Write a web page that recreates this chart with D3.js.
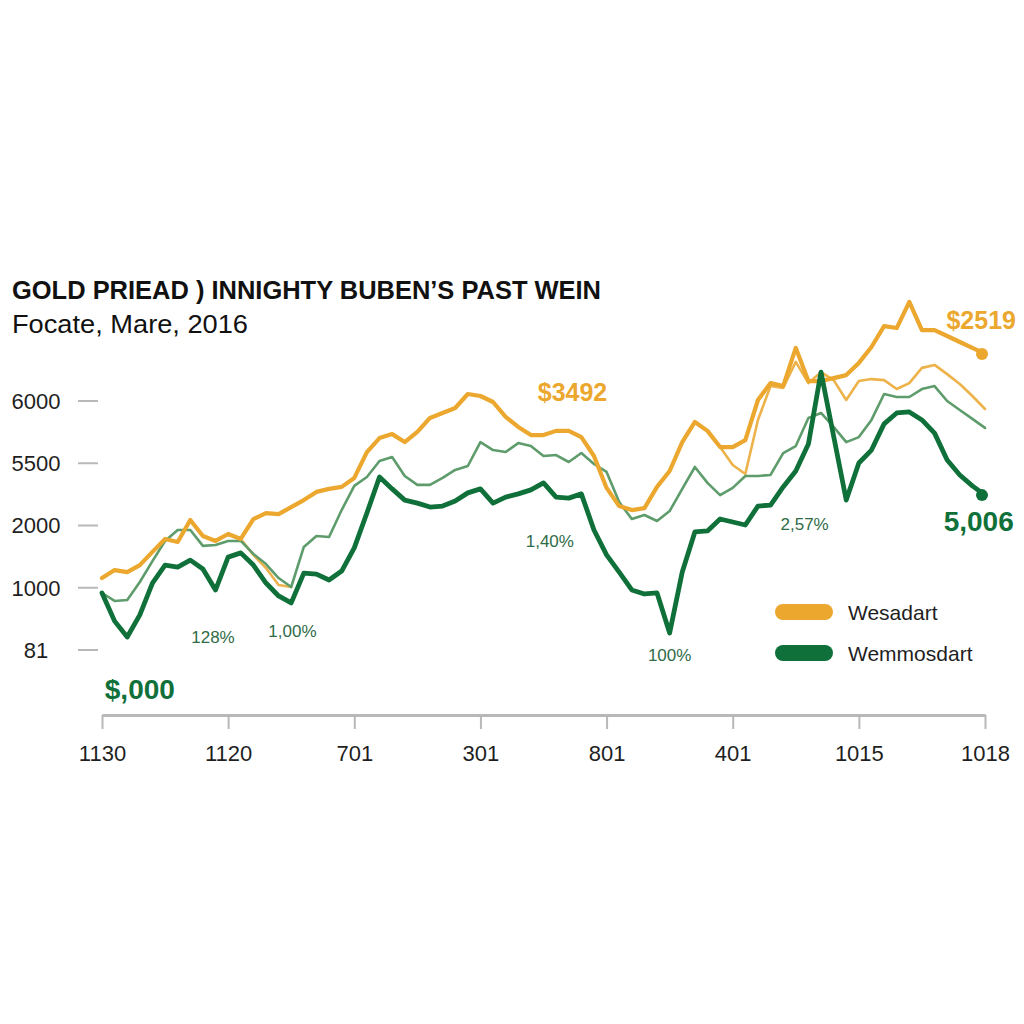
<!DOCTYPE html>
<html>
<head>
<meta charset="utf-8">
<script src="https://cdn.jsdelivr.net/npm/d3@7/dist/d3.min.js"></script>
<style>
  html, body { margin: 0; padding: 0; background: #ffffff; }
  svg { display: block; }
  text { font-family: "Liberation Sans", Arial, sans-serif; }
</style>
</head>
<body>
<svg id="chart" width="1024" height="1024"></svg>
<script>
// ---------- DATA ----------
const titleText = "GOLD PRIEAD ) INNIGHTY BUBEN\u2019S PAST WEIN";
const subtitleText = "Focate, Mare, 2016";

const xTickIndex = [0, 10, 20, 30, 40, 50, 60, 70];
const xTickLabels = ["1130", "1120", "701", "301", "801", "401", "1015", "1018"];

const yTickValues = [100, 75, 50, 25, 0];
const yTickLabels = ["6000", "5500", "2000", "1000", "81"];

// thick orange (Wesadart)
const goldMain = [28.9, 32.1, 31.3, 34.1, 39.4, 44.6, 43.4, 52.2, 45.8, 43.8,
  46.6, 44.6, 52.6, 55.0, 54.6, 57.4, 60.2, 63.5, 64.7, 65.5,
  69.1, 79.5, 85.1, 86.7, 83.5, 87.6, 93.2, 95.2, 97.2, 102.8,
  102.0, 99.6, 93.6, 89.6, 86.3, 86.3, 88.0, 88.0, 85.5, 77.9,
  65.1, 57.8, 56.2, 57.0, 65.5, 71.9, 83.5, 91.6, 88.0, 81.5,
  81.5, 84.3, 100.4, 107.2, 106.0, 121.3, 108.0, 108.0, 109.2, 110.4,
  115.3, 121.7, 130.1, 129.3, 139.8, 128.5, 128.5, 126.1, 123.7, 121.3,
  118.9];

// thin orange
const goldThin = [null, null, null, null, null, null, null, null, null, null,
  null, 44.6, 38.2, 32.9, 26.1, 25.3, null, null, null, null,
  null, null, null, null, null, null, null, null, null, null,
  null, null, null, null, null, null, null, null, null, null,
  null, null, null, null, null, null, null, null, 88.0, 81.5,
  74.3, 70.7, 92.4, 106.0, 105.2, 115.7, 107.2, 111.6, 108.4, 100.4,
  108.0, 108.8, 108.4, 104.8, 107.2, 113.3, 114.5, 110.8, 106.8, 102.0,
  96.8];

// thin light green
const greenThin = [22.9, 19.7, 20.1, 27.3, 35.7, 43.8, 48.2, 48.2, 41.8, 42.2,
  43.8, 43.8, 38.6, 34.5, 28.9, 25.3, 41.4, 45.8, 45.4, 56.2,
  65.9, 69.5, 75.9, 77.5, 69.9, 66.3, 66.3, 69.1, 72.3, 73.9,
  83.5, 80.3, 79.5, 83.1, 81.9, 77.9, 78.3, 75.5, 79.1, 74.7,
  71.5, 59.4, 52.6, 54.2, 51.8, 55.8, 64.7, 73.5, 67.1, 62.2,
  65.1, 69.9, 69.9, 70.3, 79.1, 81.9, 93.2, 95.2, 89.6, 83.5,
  85.5, 92.4, 102.8, 101.6, 101.6, 104.8, 106.0, 100.0, 96.4, 92.8,
  89.2];

// thick dark green (Wemmosdart)
const greenMain = [22.9, 11.6, 5.2, 14.1, 26.9, 34.1, 33.3, 36.1, 32.5, 24.1,
  37.3, 39.0, 34.1, 26.9, 21.7, 18.9, 30.9, 30.5, 28.1, 31.7,
  41.0, 55.0, 69.5, 64.7, 60.2, 59.0, 57.4, 57.8, 59.8, 63.1,
  64.7, 59.0, 61.4, 62.7, 64.3, 67.1, 61.4, 61.0, 62.7, 48.2,
  38.2, 31.3, 24.1, 22.5, 22.9, 6.8, 31.3, 47.4, 47.8, 52.6,
  51.4, 50.2, 57.8, 58.2, 65.5, 71.9, 82.7, 111.6, 85.9, 60.2,
  75.1, 80.3, 90.8, 95.2, 95.6, 92.4, 87.1, 76.3, 70.3, 65.9,
  62.2];

const seriesNames = ["Wesadart", "Wemmosdart"];

const annotations = [
  { text: "$3492", i: 37.3, v: 103.5, kind: "goldBig" },
  { text: "$2519", i: 69.7, v: 132.5, kind: "goldBig" },
  { text: "5,006", i: 69.5, v: 52, kind: "greenBig" },
  { text: "$,000", i: 3.0, v: -15.5, kind: "greenBig" },
  { text: "128%", i: 8.8, v: 5.2, kind: "pct" },
  { text: "1,00%", i: 15.1, v: 7.6, kind: "pct" },
  { text: "1,40%", i: 35.5, v: 43.7, kind: "pct" },
  { text: "100%", i: 45.0, v: -2, kind: "pct" },
  { text: "2,57%", i: 55.7, v: 50.6, kind: "pct" }
];

// ---------- STYLE ----------
const C = {
  gold: "#EBA72E",
  goldThin: "#EDB24A",
  green: "#10703A",
  greenThin: "#5E9C6C",
  pct: "#2F6B47",
  text: "#1f1f1f",
  axis: "#B8B8B8"
};

const svg = d3.select("#chart");

const x = d3.scaleLinear().domain([0, 70]).range([102, 985]);
const y = d3.scaleLinear().domain([0, 100]).range([650, 401]);

// title
svg.append("text").attr("x", 12).attr("y", 299)
  .attr("font-size", 26).attr("font-weight", "bold").attr("fill", "#111")
  .attr("textLength", 589).attr("lengthAdjust", "spacingAndGlyphs")
  .text(titleText);
svg.append("text").attr("x", 12).attr("y", 333)
  .attr("font-size", 26).attr("fill", "#111")
  .attr("textLength", 236).attr("lengthAdjust", "spacingAndGlyphs")
  .text(subtitleText);

// y ticks
const yg = svg.append("g");
yTickValues.forEach((v, k) => {
  yg.append("line").attr("x1", 78).attr("x2", 98)
    .attr("y1", y(v)).attr("y2", y(v))
    .attr("stroke", C.axis).attr("stroke-width", 2);
  yg.append("text").attr("x", 36).attr("y", y(v)).attr("dy", "0.36em")
    .attr("text-anchor", "middle").attr("font-size", 22).attr("fill", C.text)
    .text(yTickLabels[k]);
});

// x axis
const xAxis = d3.axisBottom(x)
  .tickValues(xTickIndex)
  .tickFormat((d, k) => xTickLabels[k])
  .tickSize(14).tickSizeOuter(0).tickPadding(16);
const xg = svg.append("g").attr("transform", "translate(0,715)").call(xAxis);
xg.select(".domain").attr("stroke", C.axis).attr("stroke-width", 3);
xg.selectAll(".tick line").attr("stroke", C.axis).attr("stroke-width", 2);
xg.selectAll(".tick text").attr("font-size", 22).attr("fill", C.text)
  .attr("font-family", "'Liberation Sans', Arial, sans-serif");

// lines
const line = d3.line()
  .defined(d => d != null)
  .x((d, i) => x(i))
  .y(d => y(d))
  .curve(d3.curveLinear);

function drawLine(data, color, width) {
  svg.append("path").datum(data)
    .attr("fill", "none").attr("stroke", color).attr("stroke-width", width)
    .attr("stroke-linejoin", "round").attr("stroke-linecap", "round")
    .attr("d", line);
}
drawLine(goldThin, C.goldThin, 2.6);
drawLine(greenThin, C.greenThin, 2.6);
drawLine(goldMain, C.gold, 4.2);
drawLine(greenMain, C.green, 4.8);

// end markers
svg.append("circle").attr("cx", x(70) - 3).attr("cy", y(goldMain[70]))
  .attr("r", 6).attr("fill", C.gold);
svg.append("circle").attr("cx", x(70) - 3).attr("cy", y(greenMain[70]))
  .attr("r", 6).attr("fill", C.green);

// annotations
annotations.forEach(a => {
  const t = svg.append("text").attr("x", x(a.i)).attr("y", y(a.v))
    .attr("dy", "0.36em").attr("text-anchor", "middle");
  if (a.kind === "goldBig") {
    t.attr("font-size", 25).attr("font-weight", "bold").attr("fill", C.gold);
  } else if (a.kind === "greenBig") {
    t.attr("font-size", 28).attr("font-weight", "bold").attr("fill", C.green);
  } else {
    t.attr("font-size", 17).attr("fill", C.pct);
  }
  t.text(a.text);
});

// legend
const legendColors = [C.gold, C.green];
seriesNames.forEach((name, k) => {
  const ly = 612 + k * 41;
  svg.append("rect").attr("x", 775).attr("y", ly - 8).attr("width", 58).attr("height", 16)
    .attr("rx", 8).attr("fill", legendColors[k]);
  svg.append("text").attr("x", 848).attr("y", ly).attr("dy", "0.36em")
    .attr("font-size", 21).attr("fill", C.text).text(name);
});
</script>
</body>
</html>
